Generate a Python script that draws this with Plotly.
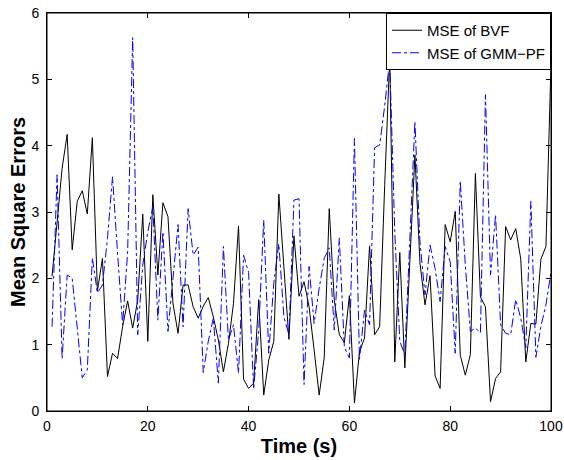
import plotly.graph_objects as go

time_s = list(range(1, 101))

mse_bvf = [
    2.03, 2.85, 3.66, 4.17, 2.43, 3.16, 3.32, 2.97, 4.12, 1.81,
    2.30, 0.52, 0.87, 0.79, 1.27, 1.66, 1.25, 1.67, 2.97, 1.05,
    3.26, 2.05, 3.14, 2.93, 1.62, 1.17, 1.90, 1.90, 1.57, 1.40,
    1.58, 1.71, 1.42, 1.07, 0.59, 1.02, 1.62, 2.79, 0.48, 0.34,
    0.42, 1.68, 0.24, 0.77, 1.05, 3.27, 2.20, 1.08, 2.64, 1.73,
    1.95, 1.57, 0.92, 0.24, 0.80, 3.05, 1.67, 1.15, 1.03, 1.74,
    0.12, 0.89, 1.10, 2.49, 1.15, 1.27, 3.40, 5.34, 0.74, 2.39,
    0.65, 2.20, 3.86, 2.23, 1.60, 2.04, 0.53, 0.34, 2.81, 2.55,
    3.01, 0.84, 0.54, 0.85, 3.58, 1.72, 1.57, 0.14, 0.49, 0.59,
    2.78, 2.58, 2.75, 2.29, 0.74, 1.32, 1.31, 2.29, 2.48, 5.24,
]

mse_gmm_pf = [
    1.27, 3.56, 0.79, 2.05, 2.00, 1.30, 0.50, 0.62, 2.31, 1.78,
    1.90, 2.60, 3.53, 2.38, 1.30, 2.40, 5.63, 1.15, 2.20, 2.70,
    3.08, 1.37, 2.70, 1.20, 2.00, 2.81, 1.27, 3.05, 2.35, 2.47,
    0.58, 1.05, 1.40, 0.42, 2.48, 1.07, 1.30, 0.57, 2.35, 2.09,
    0.33, 1.20, 2.88, 0.87, 1.93, 2.52, 1.42, 1.15, 3.18, 3.20,
    0.40, 2.18, 1.32, 1.85, 2.30, 2.46, 1.22, 2.61, 0.96, 0.80,
    4.11, 0.78, 1.52, 1.30, 3.97, 4.01, 4.60, 5.30, 2.70, 1.05,
    0.85, 2.50, 4.36, 2.55, 1.75, 2.50, 2.15, 1.65, 2.48, 2.25,
    0.87, 3.47, 2.20, 1.20, 1.25, 1.18, 4.77, 2.05, 2.96, 1.30,
    1.17, 1.15, 1.68, 1.40, 0.95, 3.16, 0.81, 1.28, 1.60, 2.10,
]

x_ticks = [0, 20, 40, 60, 80, 100]
y_ticks = [0, 1, 2, 3, 4, 5, 6]

FONT = "Liberation Sans, Arial, sans-serif"

fig = go.Figure()
fig.add_trace(go.Scatter(
    x=time_s, y=mse_bvf, mode="lines", name="MSE of BVF",
    line=dict(color="black", width=1),
))
fig.add_trace(go.Scatter(
    x=time_s, y=mse_gmm_pf, mode="lines", name="MSE of GMM\u2212PF",
    line=dict(color="#0000ff", width=1, dash="dashdot"),
))

axis_common = dict(
    showgrid=False, zeroline=False, showline=True, linecolor="black",
    linewidth=1, mirror="ticks", ticks="inside", ticklen=5,
    tickcolor="black", tickfont=dict(family=FONT, size=14, color="black"),
    automargin=False,
)

fig.update_layout(
    width=564, height=460,
    margin=dict(l=47, r=13, t=13, b=49, autoexpand=False),
    paper_bgcolor="white", plot_bgcolor="white",
    showlegend=True,
    legend=dict(
        x=1, y=1, xanchor="right", yanchor="top",
        bgcolor="white", bordercolor="black", borderwidth=1,
        font=dict(family=FONT, size=15, color="black"),
        tracegroupgap=0, itemwidth=30,
    ),
    xaxis=dict(
        range=[0, 100], tickvals=x_ticks, ticklabelstandoff=2,
        title=dict(text="<b>Time (s)</b>", font=dict(family=FONT, size=20, color="black"), standoff=6),
        **axis_common,
    ),
    yaxis=dict(
        range=[0, 6], tickvals=y_ticks, ticklabelstandoff=4,
        title=dict(text="<b>Mean Square Errors</b>", font=dict(family=FONT, size=20, color="black"), standoff=0),
        **axis_common,
    ),
    shapes=[dict(
        type="rect", xref="paper", yref="paper", x0=0, x1=1, y0=0, y1=1,
        line=dict(color="black", width=1), fillcolor="rgba(0,0,0,0)", layer="above",
    )],
)

fig.write_html(
    "out.html",
    config={"displayModeBar": False},
    post_script="document.body.style.margin='0';document.body.style.overflow='hidden';",
)
